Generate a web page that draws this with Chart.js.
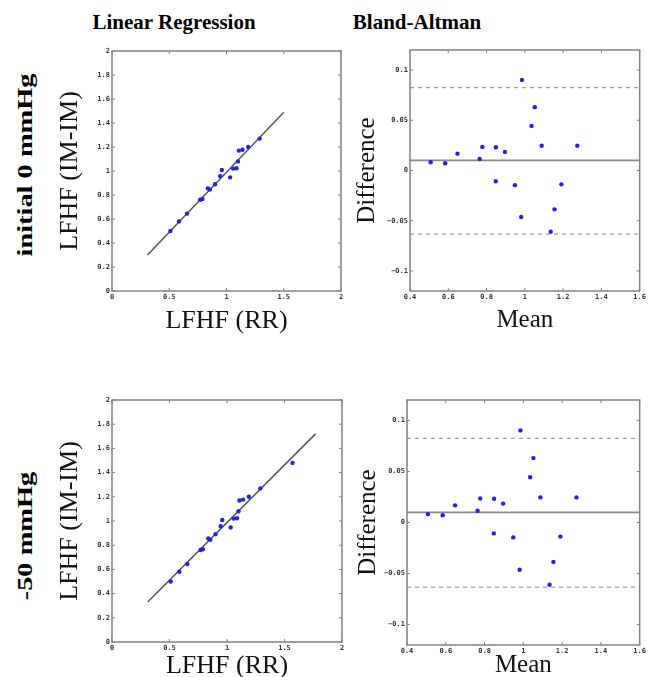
<!DOCTYPE html>
<html>
<head>
<meta charset="utf-8">
<script src="https://cdn.jsdelivr.net/npm/chart.js@4.4.0/dist/chart.umd.min.js"></script>
<style>
  html, body { margin: 0; padding: 0; background: #fff; width: 648px; height: 677px; overflow: hidden; }
  canvas { position: absolute; }
  .head {
    position: absolute; white-space: nowrap; line-height: 1;
    font-family: "Liberation Serif", "Times New Roman", serif; font-weight: bold; color: #000;
    transform: translate(-50%, -50%);
  }
  .col { font-size: 21px; }
  .row { font-size: 20px; transform: translate(-50%, -50%) rotate(-90deg) scaleX(1.42); }
</style>
</head>
<body>
<div class="head col" style="left:174px; top:22px">Linear Regression</div>
<div class="head col" style="left:417px; top:22px">Bland-Altman</div>
<div class="head row" style="left:25px; top:165px">initial 0 mmHg</div>
<div class="head row" style="left:25px; top:536px">-50 mmHg</div>

<canvas id="lrTop" width="310" height="300" style="left:40px; top:40px"></canvas>
<canvas id="baTop" width="303" height="300" style="left:345px; top:40px"></canvas>
<canvas id="lrBottom" width="310" height="300" style="left:40px; top:385px"></canvas>
<canvas id="baBottom" width="303" height="300" style="left:345px; top:385px"></canvas>

<script>
// LFHF from RR intervals vs. from IM-IM intervals (same subjects in both rows)
const rrValues = [0.51, 0.585, 0.655, 0.77, 0.79, 0.837, 0.855, 0.90, 0.945, 0.959, 1.032, 1.058, 1.087, 1.10, 1.108, 1.14, 1.19, 1.29];
const imValues = [0.50, 0.58, 0.645, 0.76, 0.767, 0.855, 0.845, 0.89, 0.957, 1.008, 0.947, 1.02, 1.023, 1.08, 1.17, 1.177, 1.20, 1.27];
// -50 mmHg row has one more subject in the regression plot
const extraRR = [1.57];
const extraIM = [1.48];

// Bland-Altman: mean and difference (RR - IM)
const meanValues = [0.508, 0.584, 0.648, 0.764, 0.778, 0.849, 0.848, 0.896, 0.948, 0.981, 0.985, 1.035, 1.052, 1.088, 1.135, 1.155, 1.191, 1.274];
const diffValues = [0.0082, 0.0072, 0.0168, 0.0115, 0.0235, 0.0232, -0.0107, 0.0185, -0.0146, -0.0463, 0.0902, 0.0444, 0.0631, 0.0246, -0.061, -0.0387, -0.0138, 0.0246];

// fitted lines (end points)
const fitTopX = [0.31, 1.5];
const fitTopY = [0.30, 1.49];
const fitBottomX = [0.31, 1.77];
const fitBottomY = [0.33, 1.72];

// bias and limits of agreement
const baBias = 0.01;
const baUpper = 0.0825;
const baLower = -0.0633;
const baRange = [0.4, 1.6];

// tick labels
const lfXTicks = [0, 0.5, 1, 1.5, 2];
const lfYTicks = [0, 0.2, 0.4, 0.6, 0.8, 1, 1.2, 1.4, 1.6, 1.8, 2];
const baXTicks = [0.4, 0.6, 0.8, 1, 1.2, 1.4, 1.6];
const baYTicks = [-0.1, -0.05, 0, 0.05, 0.1];

const dotColor = "#2323d2";
const tickFont = { family: "'DejaVu Sans Mono', monospace", size: 7, weight: "bold" };

function pairs(xs, ys) {
  return xs.map((x, i) => ({ x: x, y: ys[i] }));
}

function fmt(value) {
  return String(Number(value.toFixed(3))).replace("-", "\u2212");
}

// box round the plot + inward tick marks on all four sides
const frame = {
  id: "frame",
  afterDraw(chart) {
    const { ctx, chartArea: a, scales } = chart;
    ctx.save();
    ctx.strokeStyle = "#808080";
    ctx.lineWidth = 1;
    ctx.beginPath();
    scales.x.ticks.forEach((t) => {
      const px = scales.x.getPixelForValue(t.value);
      ctx.moveTo(px, a.bottom); ctx.lineTo(px, a.bottom - 3);
      ctx.moveTo(px, a.top); ctx.lineTo(px, a.top + 3);
    });
    scales.y.ticks.forEach((t) => {
      const py = scales.y.getPixelForValue(t.value);
      ctx.moveTo(a.left, py); ctx.lineTo(a.left + 3, py);
      ctx.moveTo(a.right, py); ctx.lineTo(a.right - 3, py);
    });
    ctx.stroke();
    ctx.lineWidth = 1.5;
    ctx.strokeRect(a.left, a.top, a.width, a.height);
    ctx.restore();
  },
};

function axis(min, max, values, title, titleSize, size, titlePad) {
  return {
    type: "linear",
    min: min,
    max: max,
    afterBuildTicks: (s) => { s.ticks = values.map((v) => ({ value: v })); },
    afterFit: (s) => { if (s.isHorizontal()) s.height = size; else s.width = size; },
    grid: { display: false, drawTicks: false },
    border: { display: false },
    ticks: { font: tickFont, color: "#333", padding: 2, autoSkip: false, maxRotation: 0, callback: fmt },
    title: {
      display: true,
      text: title,
      color: "#111",
      font: { family: "'Liberation Serif', 'Times New Roman', serif", size: titleSize },
      padding: titlePad,
    },
  };
}

function panel(id, datasets, pad, xAxis, yAxis) {
  const ctx = document.getElementById(id).getContext("2d");
  return new Chart(ctx, {
    type: "scatter",
    data: { datasets: datasets },
    options: {
      responsive: false,
      animation: false,
      events: [],
      layout: { padding: pad },
      plugins: { legend: { display: false }, tooltip: { enabled: false } },
      scales: { x: xAxis, y: yAxis },
    },
    plugins: [frame],
  });
}

function dots(points) {
  return { data: points, pointRadius: 2.2, pointBackgroundColor: dotColor, pointBorderWidth: 0 };
}

function line(points, color, width, dash) {
  return {
    data: points, showLine: true, pointRadius: 0,
    borderColor: color, borderWidth: width, borderDash: dash || [],
  };
}

function baDatasets() {
  return [
    dots(pairs(meanValues, diffValues)),
    line(pairs(baRange, [baBias, baBias]), "#8a8a8a", 1.8),
    line(pairs(baRange, [baUpper, baUpper]), "#8a8a8a", 1, [4, 4]),
    line(pairs(baRange, [baLower, baLower]), "#8a8a8a", 1, [4, 4]),
  ];
}

panel("lrTop",
  [dots(pairs(rrValues, imValues)), line(pairs(fitTopX, fitTopY), "#555", 1.5)],
  { left: 0, top: 11, right: 9, bottom: 0 },
  axis(0, 2, lfXTicks, "LFHF (RR)", 26, 49, { top: 0, bottom: 3.4 }),
  axis(0, 2, lfYTicks, "LFHF (IM-IM)", 26, 72, { top: 14.4, bottom: 0 })
);

panel("baTop",
  baDatasets(),
  { left: 0, top: 10, right: 6, bottom: 0 },
  axis(0.4, 1.6, baXTicks, "Mean", 25, 49, { top: 0, bottom: 5 }),
  axis(-0.12, 0.12, baYTicks, "Difference", 25, 65, { top: 7, bottom: 0 })
);

panel("lrBottom",
  [dots(pairs(rrValues.concat(extraRR), imValues.concat(extraIM))), line(pairs(fitBottomX, fitBottomY), "#555", 1.5)],
  { left: 0, top: 15, right: 8, bottom: 0 },
  axis(0, 2, lfXTicks, "LFHF (RR)", 26, 43, { top: 0, bottom: 3.4 }),
  axis(0, 2, lfYTicks, "LFHF (IM-IM)", 26, 72, { top: 14.4, bottom: 0 })
);

panel("baBottom",
  baDatasets(),
  { left: 0, top: 15, right: 6, bottom: 0 },
  axis(0.4, 1.6, baXTicks, "Mean", 25, 40, { top: 0, bottom: 5 }),
  axis(-0.12, 0.12, baYTicks, "Difference", 25, 62, { top: 8, bottom: 0 })
);
</script>
</body>
</html>
